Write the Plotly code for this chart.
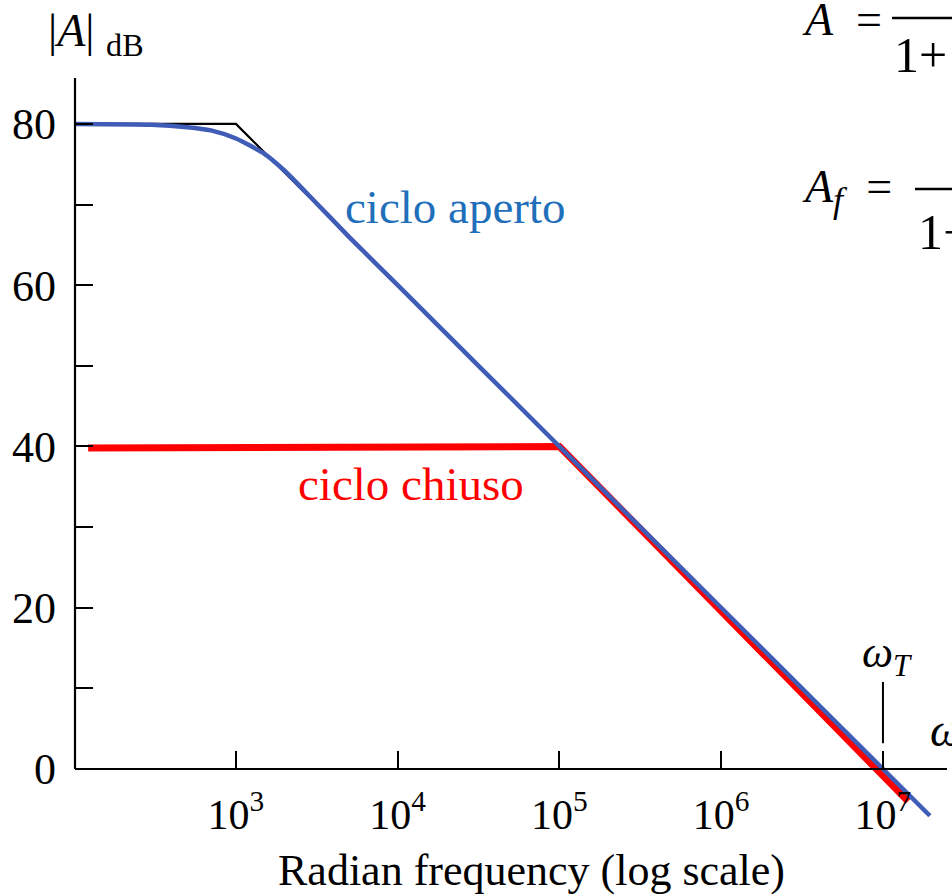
import plotly.graph_objects as go

# ---- data ----
omega_open = [1e2, 3e2, 5e2, 7e2, 1e3, 1.5e3, 2e3, 3e3, 5e3, 1e4, 1e5, 1e6, 1e7, 1.95e7]
gain_open = [80.0, 79.9, 79.6, 79.2, 78.2, 76.3, 74.2, 70.6, 66.0, 60.0, 40.0, 20.0, 0.0, -5.8]

omega_closed = [1.22e2, 1e5, 1.43e7]
gain_closed = [39.8, 40.0, -4.0]

omega_asym = [1e2, 1e3, 1e4]
gain_asym = [80.0, 80.0, 60.0]

y_tickvals = [0, 10, 20, 30, 40, 50, 60, 70, 80]
y_ticktext = ["0", "", "20", "", "40", "", "60", "", "80"]
x_tickvals = [1e3, 1e4, 1e5, 1e6, 1e7]
x_ticktext = ["10<sup>3</sup>", "10<sup>4</sup>", "10<sup>5</sup>", "10<sup>6</sup>", "10<sup>7</sup>"]
omega_T = 1e7

# ---- geometry (pixel layout) ----
W, H = 952, 895
L, R, T, B = 75, 947, 78, 834
PW, PH = R - L, B - T


def px(x):
    return (x - L) / PW


def py(y):
    return (B - y) / PH


FONT = "Liberation Serif"
BLUE = "#3F5CB6"
RED = "#FF0000"
TXT_BLUE = "#1F6FBA"

fig = go.Figure()
fig.add_trace(go.Scatter(x=omega_asym, y=gain_asym, mode="lines",
                         line=dict(color="black", width=2.2), hoverinfo="skip"))
fig.add_trace(go.Scatter(x=omega_closed, y=gain_closed, mode="lines",
                         line=dict(color=RED, width=7), hoverinfo="skip"))
fig.add_trace(go.Scatter(x=omega_open, y=gain_open, mode="lines",
                         line=dict(color=BLUE, width=4.5, shape="spline", smoothing=0.6),
                         hoverinfo="skip"))

# y axis line from 0 up to top
fig.add_shape(type="line", xref="paper", yref="y", x0=0, x1=0, y0=0, y1=85.7,
              line=dict(color="black", width=2.2))
# omega_T marker
fig.add_shape(type="line", xref="x", yref="y", x0=omega_T, x1=omega_T, y0=3.2, y1=10.8,
              line=dict(color="black", width=2))
# fraction bars of the formulas
fig.add_shape(type="line", xref="paper", yref="paper", x0=px(892), x1=px(960), y0=py(18), y1=py(18),
              line=dict(color="black", width=2.5))
fig.add_shape(type="line", xref="paper", yref="paper", x0=px(915), x1=px(960), y0=py(189), y1=py(189),
              line=dict(color="black", width=2.5))

ann = []


def add_text(text, x, y, size, color="black", xanchor="left", yanchor="middle"):
    ann.append(dict(text=text, x=px(x), y=py(y), xref="paper", yref="paper",
                    xanchor=xanchor, yanchor=yanchor, showarrow=False,
                    font=dict(family=FONT, size=size, color=color)))


add_text("|<i>A</i>| <sub>dB</sub>", 46, 34, 46)
add_text("ciclo aperto", 455, 207, 47, TXT_BLUE, xanchor="center")
add_text("ciclo chiuso", 411, 484, 47, RED, xanchor="center")
add_text("<i>ω</i><sub><i>T</i></sub>", 887, 655, 44, xanchor="center")
add_text("<i>ω</i>", 928, 730, 46)
add_text("<i>A</i>  =", 800, 20, 46)
add_text("1+", 892, 55, 50)
add_text("<i>A</i><sub><span style='font-size:36px'><i>f</i></span></sub>  =", 800, 190, 46)
add_text("1−", 916, 232, 50)
add_text("Radian frequency (log scale)", 531, 870, 44, xanchor="center")

fig.update_layout(
    width=W, height=H,
    margin=dict(l=L, r=W - R, t=T, b=H - B, autoexpand=False),
    paper_bgcolor="white", plot_bgcolor="white",
    showlegend=False,
    annotations=ann,
    xaxis=dict(type="log", range=[2.005, 7.396], showgrid=False, zeroline=False,
               anchor="free", position=py(769), showline=True, linecolor="black", linewidth=2.2,
               ticks="inside", ticklen=17, tickwidth=2, tickcolor="black",
               tickvals=x_tickvals, ticktext=x_ticktext, ticklabelstandoff=8,
               tickfont=dict(family=FONT, size=42, color="black")),
    yaxis=dict(range=[-8.06, 85.7], showgrid=False, zeroline=False, showline=False,
               ticks="inside", ticklen=18, tickwidth=2, tickcolor="black",
               tickvals=y_tickvals, ticktext=y_ticktext, ticklabelstandoff=18,
               tickfont=dict(family=FONT, size=44, color="black")),
)

fig.write_html("out.html", config={"displayModeBar": False},
               post_script="document.body.style.margin='0';document.body.style.overflow='hidden';")
